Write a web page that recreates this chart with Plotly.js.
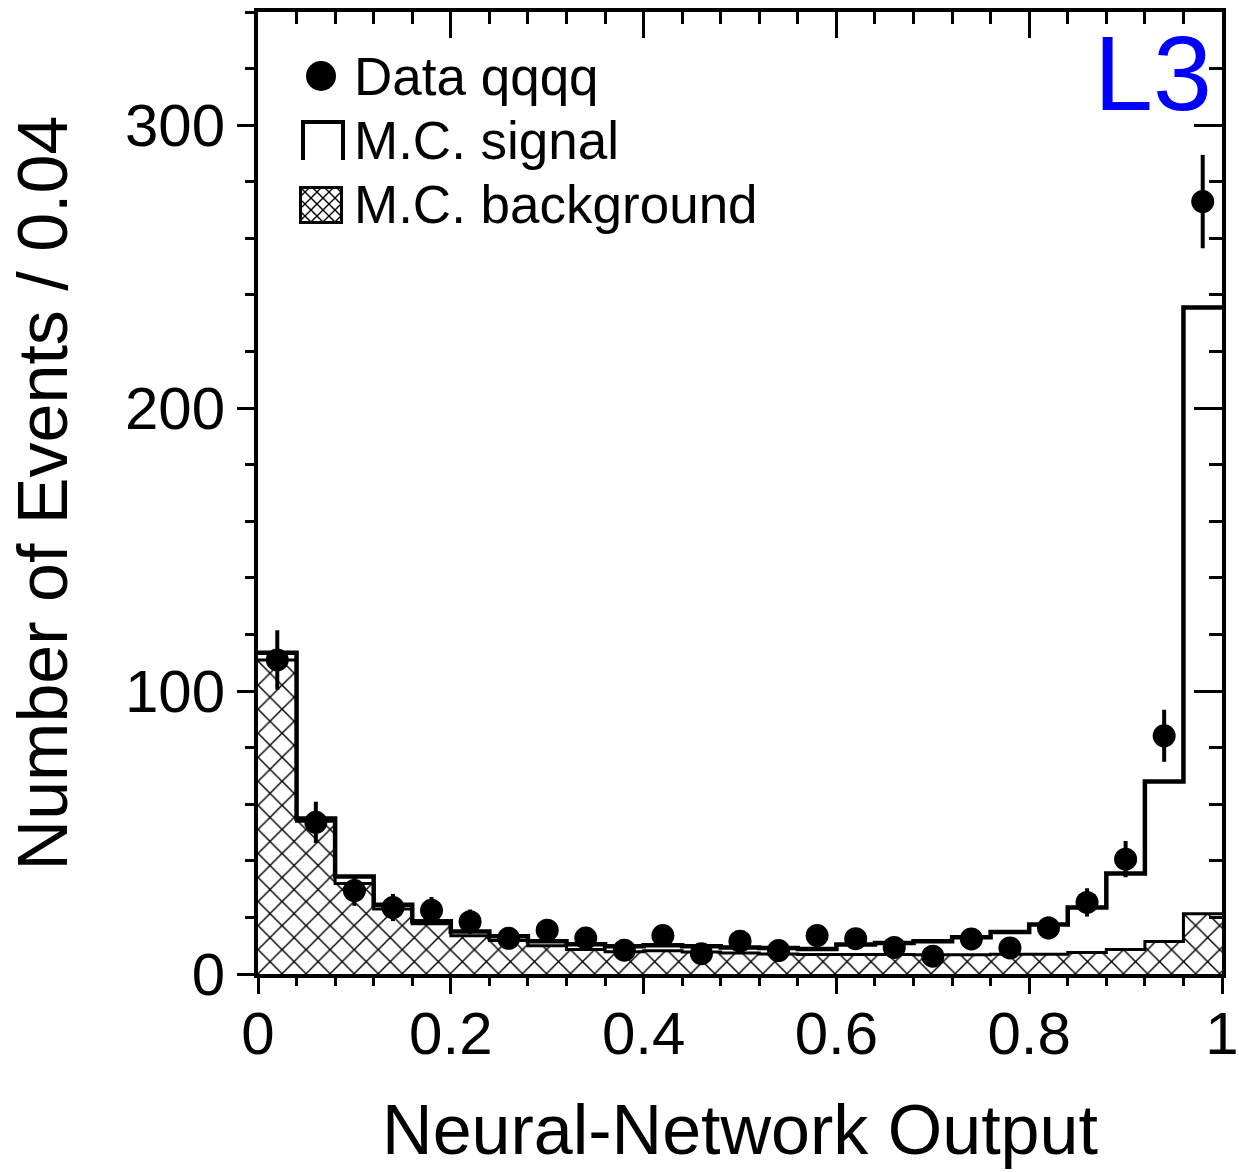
<!DOCTYPE html>
<html>
<head>
<meta charset="utf-8">
<script src="https://cdn.plot.ly/plotly-3.0.1.min.js"></script>
<style>
  body { margin: 0; background: #fff; }
  #plot { width: 1239px; height: 1172px; }
</style>
</head>
<body>
<div id="plot"></div>
<script>
// bins of 0.04 on the neural-network output
const binLow = [0, 0.04, 0.08, 0.12, 0.16, 0.20, 0.24, 0.28, 0.32, 0.36,
                0.40, 0.44, 0.48, 0.52, 0.56, 0.60, 0.64, 0.68, 0.72, 0.76,
                0.80, 0.84, 0.88, 0.92, 0.96];
const binCenter = [0.02, 0.06, 0.10, 0.14, 0.18, 0.22, 0.26, 0.30, 0.34, 0.38,
                   0.42, 0.46, 0.50, 0.54, 0.58, 0.62, 0.66, 0.70, 0.74, 0.78,
                   0.82, 0.86, 0.90, 0.94, 0.98];

// data qqqq, with statistical errors
const dataCounts = [111, 53.6, 29.5, 23.5, 22.5, 18.5, 12.6, 15.5, 12.7, 8.4,
                    13.6, 7.2, 11.6, 8.3, 13.6, 12.5, 9.4, 6.3, 12.4, 9.2,
                    16.3, 25.3, 40.6, 84.2, 273];
const dataErr = [10.5, 7.3, 5.4, 4.8, 4.7, 4.3, 3.5, 3.9, 3.6, 2.9,
                 3.7, 2.7, 3.4, 2.9, 3.7, 3.5, 3.1, 2.5, 3.5, 3.0,
                 4.0, 5.0, 6.4, 9.2, 16.5];

// M.C. signal (drawn as total signal + background)
const mcTotal = [113.5, 55, 34.5, 24.5, 18.6, 15, 13.3, 11.6, 10.5, 9.8,
                 10.2, 9.8, 9.4, 9.2, 8.8, 10.4, 11, 11.6, 13, 14.8,
                 17.5, 23.5, 35.5, 68, 235.6];

// M.C. background
const mcBackground = [111, 54, 32, 23, 17.8, 13.5, 11.8, 10, 8.7, 7.9,
                      8.2, 7.8, 7.4, 7.1, 6.9, 6.9, 6.9, 6.8, 6.8, 7,
                      7, 7.6, 8.7, 11.5, 21.3];

const xTitle = 'Neural-Network Output';
const yTitle = 'Number of Events / 0.04';
const legendNames = ['Data qqqq', 'M.C. signal', 'M.C. background'];

// plot frame in pixels, used for the hand drawn legend
const W = 1239, H = 1172;
const L = 258, R = 1222, T = 12, B = 974;
const px = x => (x - L) / (R - L);
const py = y => (B - y) / (B - T);

function stepX(low) { return low.concat([1]); }
function stepY(v) { return v.concat([v[v.length - 1]]); }

const FONT = 'Liberation Sans, Arial, Helvetica, sans-serif';

const traces = [
  {
    type: 'bar',
    x: binLow,
    y: mcBackground,
    width: 0.04,
    offset: 0,
    marker: {
      color: 'white',
      line: { width: 0 },
      pattern: { shape: 'x', fgcolor: 'black', bgcolor: 'white', size: 17, solidity: 0.16, fillmode: 'replace' }
    },
    showlegend: false,
    hoverinfo: 'skip'
  },
  {
    type: 'scatter',
    mode: 'lines',
    x: stepX(binLow),
    y: stepY(mcBackground),
    line: { shape: 'hv', color: 'black', width: 3 },
    xaxis: 'x2', yaxis: 'y2',
    showlegend: false
  },
  {
    type: 'scatter',
    mode: 'lines',
    x: stepX(binLow),
    y: stepY(mcTotal),
    line: { shape: 'hv', color: 'black', width: 4.5 },
    xaxis: 'x2', yaxis: 'y2',
    showlegend: false
  },
  {
    type: 'scatter',
    mode: 'markers',
    x: binCenter,
    y: dataCounts,
    marker: { symbol: 'circle', size: 23, color: 'black' },
    error_y: { type: 'data', array: dataErr, visible: true, width: 0, thickness: 4, color: 'black' },
    xaxis: 'x2', yaxis: 'y2',
    showlegend: false
  }
];

const axisCommon = {
  showline: true,
  linecolor: 'black',
  linewidth: 4,
  showgrid: false,
  zeroline: false,
  tickcolor: 'black',
  tickwidth: 3,
  tickfont: { family: FONT, size: 60, color: 'black' }
};

const hatchSvg = '<svg xmlns="http://www.w3.org/2000/svg" width="44" height="38">' +
  '<defs><pattern id="p" width="12" height="12" patternUnits="userSpaceOnUse">' +
  '<path d="M0,0L12,12M12,0L0,12" stroke="black" stroke-width="1.4"/></pattern></defs>' +
  '<rect x="1.5" y="1.5" width="41" height="35" fill="url(#p)" stroke="black" stroke-width="3"/></svg>';

const layout = {
  width: W,
  height: H,
  margin: { l: L, r: W - R, t: T, b: H - B },
  paper_bgcolor: 'white',
  plot_bgcolor: 'white',
  font: { family: FONT, color: 'black' },
  showlegend: false,
  bargap: 0,
  xaxis: Object.assign({}, axisCommon, {
    range: [0, 1],
    dtick: 0.2,
    ticks: 'outside',
    ticklen: 16,
    ticklabelstandoff: -12,
    minor: { dtick: 0.04, ticks: 'outside', ticklen: 8, tickwidth: 3, tickcolor: 'black' },
    title: { text: xTitle, font: { family: FONT, size: 70 }, standoff: 40 }
  }),
  yaxis: Object.assign({}, axisCommon, {
    range: [0, 340],
    dtick: 100,
    ticks: 'outside',
    ticklen: 17,
    minor: { dtick: 20, ticks: 'outside', ticklen: 9, tickwidth: 3, tickcolor: 'black' },
    title: { text: yTitle, font: { family: FONT, size: 70 }, standoff: 35 }
  }),
  xaxis2: Object.assign({}, axisCommon, {
    overlaying: 'x',
    anchor: 'y',
    side: 'top',
    range: [0, 1],
    dtick: 0.2,
    ticks: 'inside',
    ticklen: 26,
    showticklabels: false,
    minor: { dtick: 0.04, ticks: 'inside', ticklen: 12, tickwidth: 3, tickcolor: 'black' }
  }),
  yaxis2: Object.assign({}, axisCommon, {
    overlaying: 'y',
    anchor: 'x',
    side: 'right',
    range: [0, 340],
    dtick: 100,
    ticks: 'inside',
    ticklen: 28,
    showticklabels: false,
    minor: { dtick: 20, ticks: 'inside', ticklen: 13, tickwidth: 3, tickcolor: 'black' }
  }),
  shapes: [
    // legend glyph: data point
    { type: 'circle', xref: 'paper', yref: 'paper',
      x0: px(306), x1: px(336), y0: py(91), y1: py(61),
      fillcolor: 'black', line: { width: 0 } },
    // legend glyph: open signal histogram
    { type: 'path', xref: 'paper', yref: 'paper',
      path: 'M' + px(303) + ',' + py(160) + 'L' + px(303) + ',' + py(122) +
            'L' + px(343) + ',' + py(122) + 'L' + px(343) + ',' + py(160),
      line: { color: 'black', width: 4 } }
  ],
  images: [
    { source: 'data:image/svg+xml;charset=utf-8,' + encodeURIComponent(hatchSvg),
      xref: 'paper', yref: 'paper', x: px(299), y: py(186),
      sizex: 44 / (R - L), sizey: 38 / (B - T),
      xanchor: 'left', yanchor: 'top', sizing: 'stretch', layer: 'above' }
  ],
  annotations: [
    { text: legendNames[0], xref: 'paper', yref: 'paper', x: px(352), y: py(77),
      xanchor: 'left', yanchor: 'middle', showarrow: false, font: { family: FONT, size: 53 } },
    { text: legendNames[1], xref: 'paper', yref: 'paper', x: px(352), y: py(141),
      xanchor: 'left', yanchor: 'middle', showarrow: false, font: { family: FONT, size: 53 } },
    { text: legendNames[2], xref: 'paper', yref: 'paper', x: px(352), y: py(204),
      xanchor: 'left', yanchor: 'middle', showarrow: false, font: { family: FONT, size: 53 } },
    { text: 'L3', xref: 'paper', yref: 'paper', x: px(1214), y: py(73),
      xanchor: 'right', yanchor: 'middle', showarrow: false,
      font: { family: FONT, size: 106, color: '#0000ff' } }
  ]
};

Plotly.newPlot('plot', traces, layout, { staticPlot: true });
</script>
</body>
</html>
